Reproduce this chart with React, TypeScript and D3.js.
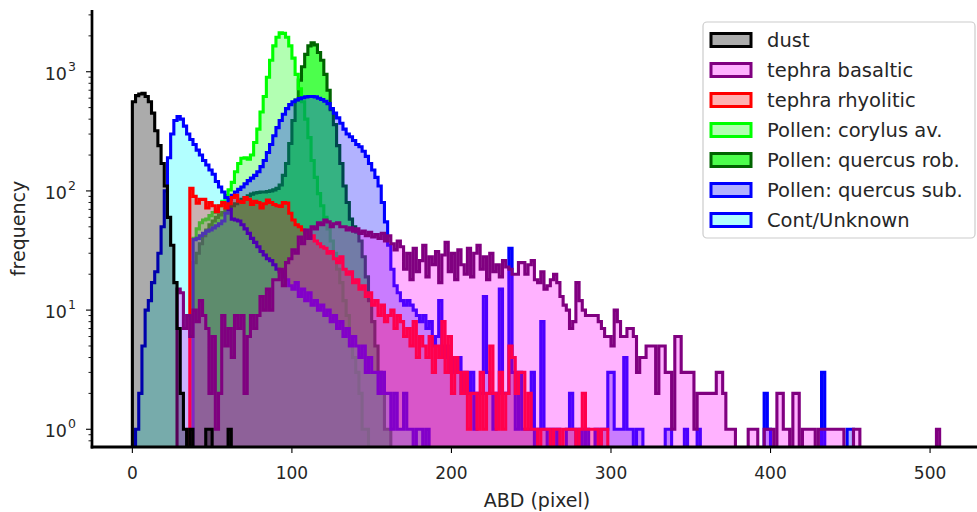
import React from "react";
import * as d3 from "d3";

// ---------- data (histogram counts, bin width 2 px-units) ----------
const BIN_WIDTH = 2;
const X_TICKS = [0, 100, 200, 300, 400, 500];
const Y_TICK_EXPONENTS = [0, 1, 2, 3];
const X_LABEL = "ABD (pixel)";
const Y_LABEL = "frequency";

const SERIES_LABELS = [
  "dust",
  "tephra basaltic",
  "tephra rhyolitic",
  "Pollen: corylus av.",
  "Pollen: quercus rob.",
  "Pollen: quercus sub.",
  "Cont/Unknown",
];

const dustStartX = 0;
const dustCounts = [560, 630, 650, 660, 620, 560, 450, 320, 240, 170, 110, 60, 35, 17, 7, 2, 1, 0, 1, 0, 0, 0, 0, 1, 1, 0, 0, 0, 0, 0, 1];

const basalticStartX = 28;
const basalticCounts = [
  15, 14, 7, 9, 6, 10, 8, 12, 9, 7, 2, 6, 1, 2, 9, 5, 7, 4, 9, 7, 9, 2, 6, 9, 7, 9,
  13, 10, 15, 10, 18, 18, 22, 16, 25, 27, 32, 30, 41, 36, 47, 40, 50, 48, 54, 52, 57, 55,
  50, 53, 54, 50, 50, 47, 49, 46, 48, 44, 46, 42, 45, 41, 43, 40, 44, 38, 42, 36, 32, 38,
  34, 22, 30, 18, 33, 21, 26, 35, 19, 28, 24, 31, 17, 29, 37, 21, 30, 18, 32, 24, 20, 33,
  19, 30, 35, 22, 28, 18, 30, 21, 24, 19, 26, 23, 22, 20, 20, 25, 25, 20, 24, 26, 18, 17,
  21, 15, 16, 18, 20, 17, 13, 11, 10, 7, 8, 17, 12, 10, 9, 9, 9, 9, 8, 7, 6, 6, 5, 10,
  8, 6, 6, 7, 7, 6, 3, 4, 4, 5, 5, 5, 2, 5, 5, 3, 3, 1, 6, 6, 3, 3, 3, 3, 1, 2, 2, 2,
  2, 2, 2, 3, 3, 2, 1, 1, 1, 0, 0, 0, 0, 1, 1, 1, 0, 0, 1, 1, 1, 0, 2, 2, 1, 1, 0, 2,
  2, 0, 1, 1, 1, 1, 0, 1, 1, 1, 1, 1, 1, 1, 1, 0, 0, 0, 1, 1,
  0, 0, 0, 0, 0, 0, 0, 0, 0, 0, 0, 0, 0, 0, 0, 0, 0, 0, 0, 0, 0, 0, 0, 0, 1,
];

const rhyoliticStartX = 36;
const rhyoliticCounts = [
  105, 90, 79, 85, 85, 72, 80, 75, 67, 75, 80, 72, 78, 88, 92, 82, 80, 88, 85, 77,
  82, 80, 72, 78, 84, 80, 77, 75, 74, 80, 79, 65, 57, 52, 50, 47, 45, 41, 42, 38,
  36, 34, 33, 30, 31, 27, 25, 28, 22, 20, 21, 17, 18, 15, 16, 13, 14, 11, 12, 9,
  11, 8, 9, 10, 7, 9, 8, 6, 7, 5, 8, 4, 6, 5, 4, 6, 3, 5, 4, 8, 3, 6, 2, 4, 3, 2,
  3, 1, 2, 2, 1, 3, 1, 2, 5, 2, 1, 3, 1, 2, 5, 4, 2, 3, 3, 1, 2, 1, 1, 0, 1, 1, 1,
  0, 1, 1, 0, 1, 1, 1, 1, 0, 1, 2, 1, 1, 1, 1, 0, 1, 1,
];

const corylusStartX = 38;
const corylusCounts = [
  40, 48, 54, 57, 58, 62, 66, 70, 75, 82, 92, 102, 118, 145, 170, 188, 190, 185, 200,
  255, 330, 460, 620, 900, 1250, 1650, 1950, 2120, 2100, 1950, 1650, 1300, 950, 720,
  560, 400, 280, 180, 130, 95, 75, 60, 48, 38, 30, 22, 17, 12, 9, 6, 4, 3, 2, 1, 1,
];

const roburStartX = 38;
const roburCounts = [
  25, 30, 36, 42, 47, 52, 56, 60, 63, 66, 69, 72, 75, 78, 82, 85, 88, 91, 94, 96, 97,
  98, 98, 99, 100, 102, 105, 112, 135, 170, 250, 390, 580, 850, 1100, 1400, 1650, 1750,
  1680, 1450, 1250, 950, 700, 480, 360, 240, 170, 110, 80, 58, 50, 45, 38, 28, 19, 12,
  8, 5, 3, 2, 1, 1,
];

const suberStartX = 38;
const suberCounts = [
  39, 40, 42, 44, 46, 47, 49, 51, 53, 56, 65, 85, 92, 98, 103, 108, 115, 122, 128, 135,
  145, 160, 180, 210, 245, 290, 340, 390, 440, 490, 530, 560, 580, 595, 605, 615, 620,
  620, 615, 600, 585, 565, 540, 490, 450, 410, 370, 330, 300, 285, 265, 245, 235, 215,
  195, 170, 150, 130, 110, 80, 55, 35, 22, 16, 14, 12, 11, 12, 11, 10, 9, 8, 9, 7, 8,
  5, 6, 12, 4, 5, 3, 4, 3, 4, 2, 3, 2, 3, 1, 2, 2, 13, 3, 2, 1, 2, 15, 2, 2, 33, 3, 1,
  3, 1, 1, 1, 3, 0, 1, 8, 1, 0, 1, 0, 1, 0, 0, 1, 2, 1, 0, 1, 0, 1, 0, 0, 1, 0, 1, 1,
  3, 3, 1, 1, 1, 4, 1, 1, 0, 1, 1, 0, 0, 0, 0, 0, 0, 0, 1, 1, 0, 0, 0, 0, 1, 0, 0, 0,
  1, 0, 0, 0, 0, 0, 0, 0, 0, 0, 0, 0, 0, 0, 0, 0, 0, 0, 0, 0, 0, 2, 1, 0, 0, 0, 0, 0,
  0, 0, 0, 0, 0, 0, 0, 0, 0, 0, 0, 3, 0, 0, 0, 0, 0, 0, 0, 1, 1,
];

const unknownStartX = 2;
const unknownCounts = [
  1, 2, 5, 10, 12, 17, 21, 30, 50, 100, 190, 300, 390, 420, 400, 350, 300, 270, 245,
  220, 200, 180, 165, 150, 138, 120, 108, 98, 88, 70, 58, 57, 56, 52, 48, 44, 40, 37,
  34, 31, 29, 27, 26, 24, 22, 21, 19, 18, 16, 15, 17, 13, 15, 12, 14, 11, 12, 10, 11,
  9, 10, 8, 9, 7, 8, 6, 7, 5, 6, 5, 4, 5, 3, 4, 3, 3, 2, 3, 2, 2, 1, 2, 1, 1, 2, 1, 1,
  0, 1, 1, 0, 1,
];

// ---------- styles ----------
const EDGE = ["#000000", "#800080", "#ff0000", "#00ff00", "#006400", "#0000ff", "#0000ff"];
const FILL = [
  "rgba(0,0,0,0.33)",
  "rgba(255,0,255,0.3)",
  "rgba(255,0,0,0.3)",
  "rgba(0,255,0,0.3)",
  "rgba(0,255,0,0.7)",
  "rgba(0,0,255,0.3)",
  "rgba(0,255,255,0.3)",
];
// draw order (index into series), last is on top
const DRAW_ORDER = [4, 3, 5, 6, 2, 1, 0];

const FONT = "'DejaVu Sans', sans-serif";

export default function App() {
  const left = 92, right = 980, top = 10, bottom = 447;
  const x = d3.scaleLinear().domain([-25.3, 531.3]).range([left, right]);
  const y = d3.scaleLog().domain([0.71, 3297]).range([bottom, top]);
  const FLOOR = 0.01;

  const series = [
    { start: dustStartX, counts: dustCounts },
    { start: basalticStartX, counts: basalticCounts },
    { start: rhyoliticStartX, counts: rhyoliticCounts },
    { start: corylusStartX, counts: corylusCounts },
    { start: roburStartX, counts: roburCounts },
    { start: suberStartX, counts: suberCounts },
    { start: unknownStartX, counts: unknownCounts },
  ];

  const line = d3.line<[number, number]>().x((d) => x(d[0])).y((d) => y(d[1]));

  const stepPath = (start: number, counts: number[]) => {
    const pts: [number, number][] = [[start, FLOOR]];
    counts.forEach((c, i) => {
      const xa = start + i * BIN_WIDTH;
      const v = c > 0 ? c : FLOOR;
      pts.push([xa, v], [xa + BIN_WIDTH, v]);
    });
    pts.push([start + counts.length * BIN_WIDTH, FLOOR]);
    return line(pts) + "Z";
  };

  const minorTicks: number[] = [];
  for (let k = -1; k <= 3; k++) {
    for (let m = 2; m <= 9; m++) {
      const v = m * Math.pow(10, k);
      if (v >= 0.71 && v <= 3297) minorTicks.push(v);
    }
  }

  const legendX = 703, legendY = 22, legendW = 272, legendH = 216;

  return (
    <svg width={977} height={512} style={{ position: "absolute", left: 0, top: 0, background: "#fff" }} fontFamily={FONT}>
      <defs>
        <clipPath id="plotclip">
          <rect x={left} y={top} width={right - left} height={bottom - top} />
        </clipPath>
      </defs>
      <rect x={0} y={0} width={977} height={512} fill="#fff" />
      <g clipPath="url(#plotclip)">
        {DRAW_ORDER.map((i) => (
          <path
            key={i}
            d={stepPath(series[i].start, series[i].counts)}
            fill={FILL[i]}
            stroke={EDGE[i]}
            strokeWidth={3.1}
            strokeLinejoin="miter"
          />
        ))}
      </g>

      {/* spines */}
      <line x1={left} x2={left} y1={top} y2={bottom + 1.4} stroke="#000" strokeWidth={2.7} />
      <line x1={left - 1.3} x2={977} y1={bottom} y2={bottom} stroke="#000" strokeWidth={2.9} />

      {/* x ticks */}
      {X_TICKS.map((t) => (
        <g key={t}>
          <line x1={x(t)} x2={x(t)} y1={bottom} y2={bottom + 6} stroke="#000" strokeWidth={1.1} />
          <text x={x(t)} y={479} textAnchor="middle" fontSize={17} fill="#262626">
            {t}
          </text>
        </g>
      ))}

      {/* y ticks */}
      {minorTicks.map((v) => (
        <line key={"m" + v} x1={left - 3.5} x2={left} y1={y(v)} y2={y(v)} stroke="#000" strokeWidth={0.9} />
      ))}
      {Y_TICK_EXPONENTS.map((e) => {
        const ty = y(Math.pow(10, e));
        return (
          <g key={e}>
            <line x1={left - 6} x2={left} y1={ty} y2={ty} stroke="#000" strokeWidth={1.1} />
            <text x={67} y={ty + 8} textAnchor="end" fontSize={17.5} fill="#262626">
              10
            </text>
            <text x={68} y={ty - 1} textAnchor="start" fontSize={12.5} fill="#262626">
              {e}
            </text>
          </g>
        );
      })}

      {/* axis labels */}
      <text x={537} y={507} textAnchor="middle" fontSize={19} fill="#262626">
        {X_LABEL}
      </text>
      <text
        transform={`translate(25,${(top + bottom) / 2}) rotate(-90)`}
        textAnchor="middle"
        fontSize={19}
        fill="#262626"
      >
        {Y_LABEL}
      </text>

      {/* legend */}
      <rect x={legendX} y={legendY} width={legendW} height={legendH} rx={4} fill="rgba(255,255,255,0.8)" stroke="#cccccc" strokeWidth={1.2} />
      {SERIES_LABELS.map((lab, i) => {
        const cy = 40 + i * 30;
        return (
          <g key={lab}>
            <rect x={711} y={cy - 6.5} width={40} height={13} fill={FILL[i]} stroke={EDGE[i]} strokeWidth={3} />
            <text x={767} y={cy + 7} fontSize={19.5} fill="#262626">
              {lab}
            </text>
          </g>
        );
      })}
    </svg>
  );
}
